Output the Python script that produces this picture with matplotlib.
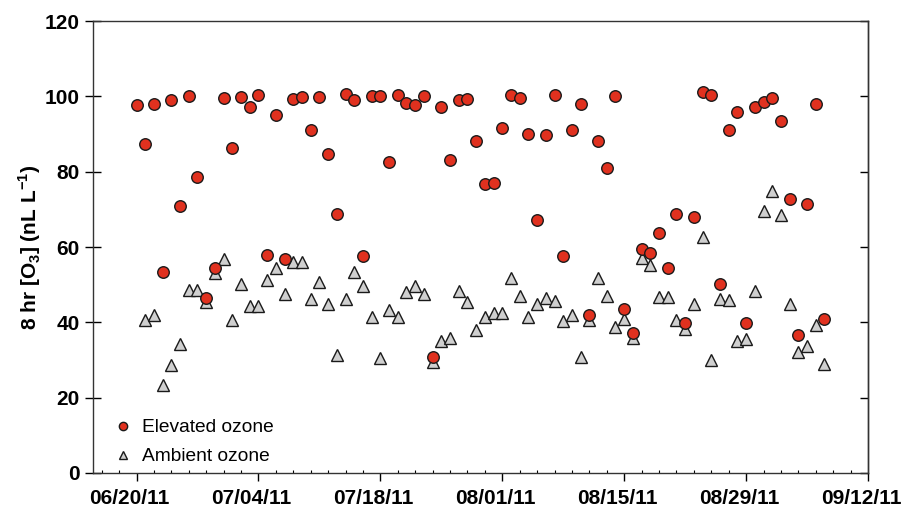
import matplotlib
matplotlib.use("Agg")
import matplotlib.pyplot as plt
import matplotlib.dates as mdates
import matplotlib.transforms as mtransforms
import pandas as pd

plt.rcParams['font.family'] = ['Liberation Sans', 'DejaVu Sans']
plt.rcParams['mathtext.fontset'] = 'custom'
plt.rcParams['mathtext.rm'] = 'Liberation Sans:bold'
plt.rcParams['mathtext.bf'] = 'Liberation Sans:bold'

# Daily 8 hr ozone, elevated from 06/20/11, ambient from 06/21/11
elevated_start = '2011-06-20'
elevated = [97.6, 87.3, 97.9, 53.4, 99.1, 70.9, 100.1, 78.6, 46.4, 54.3,
            99.6, 86.4, 99.7, 97.3, 100.3, 57.9, 95.0, 56.7, 99.4, 99.7,
            91.2, 99.8, 84.7, 68.8, 100.5, 99.0, 57.5, 100.0, 100.1, 82.7,
            100.3, 98.3, 97.7, 100.2, 30.8, 97.1, 83.0, 99.1, 99.2, 88.1,
            76.7, 76.9, 91.7, 100.4, 99.5, 90.1, 67.3, 89.7, 100.3, 57.7,
            91.2, 98.0, 42.0, 88.2, 81.1, 100.2, 43.5, 37.1, 59.4, 58.5,
            63.7, 54.5, 68.8, 39.7, 68.1, 101.1, 100.4, 50.2, 91.0, 95.8,
            39.7, 97.2, 98.5, 99.6, 93.5, 72.7, 36.6, 71.4, 98.0, 41.0]

ambient_start = '2011-06-21'
ambient = [40.5, 41.9, 23.3, 28.8, 34.2, 48.5, 48.5, 45.4, 53.1, 56.9,
           40.5, 50.3, 44.3, 44.3, 51.2, 54.5, 47.6, 56.1, 56.1, 46.1,
           50.6, 45.0, 31.4, 46.2, 53.4, 49.6, 41.4, 30.5, 43.2, 41.4,
           48.1, 49.6, 47.4, 29.5, 35.0, 35.9, 48.2, 45.3, 38.0, 41.3,
           42.4, 42.4, 51.8, 47.0, 41.3, 45.0, 46.4, 45.6, 40.3, 41.9,
           30.8, 40.5, 51.7, 47.1, 38.7, 40.8, 35.8, 57.1, 55.3, 46.6,
           46.7, 40.5, 38.1, 45.0, 62.7, 30.1, 46.2, 45.9, 35.1, 35.7,
           48.3, 69.5, 74.8, 68.6, 45.0, 32.0, 33.6, 39.2, 28.9]

elev_dates = pd.date_range(elevated_start, periods=len(elevated), freq='D')
amb_dates = pd.date_range(ambient_start, periods=len(ambient), freq='D')

fig = plt.figure(figsize=(9.02, 5.13), dpi=100)
ax = fig.add_axes([0.1031, 0.078, 0.8592, 0.881])

ax.plot(amb_dates, ambient, linestyle='none', marker='^', markersize=8.8,
        markerfacecolor='#cfcfcf', markeredgecolor='#1a1a1a', markeredgewidth=1.0,
        label='Ambient ozone', zorder=3)
ax.plot(elev_dates, elevated, linestyle='none', marker='o', markersize=8.3,
        markerfacecolor='#e0311f', markeredgecolor='#1a1a1a', markeredgewidth=1.0,
        label='Elevated ozone', zorder=4)

ax.set_xlim(pd.Timestamp('2011-06-15'), pd.Timestamp('2011-09-12'))
ax.set_ylim(0, 120)

ax.xaxis.set_major_locator(matplotlib.ticker.FixedLocator(
    mdates.date2num(pd.date_range('2011-06-20', '2011-09-12', freq='14D'))))
ax.xaxis.set_minor_locator(matplotlib.ticker.FixedLocator(
    mdates.date2num(pd.date_range('2011-06-16', '2011-09-12', freq='2D'))))
ax.xaxis.set_major_formatter(mdates.DateFormatter('%m/%d/%y'))
ax.set_yticks(range(0, 121, 20))

ax.tick_params(axis='x', which='major', direction='out', length=5.5, width=1, pad=6,
               labelsize=15)
ax.tick_params(axis='x', which='minor', direction='in', length=2.5, width=0.8)
ax.tick_params(axis='y', which='major', direction='inout', length=11, width=1, pad=4,
               labelsize=15)
# date labels sit a little left of their ticks in the original
shift = mtransforms.ScaledTranslation(-7 / 100, 0, fig.dpi_scale_trans)
for lbl in ax.get_xticklabels():
    lbl.set_fontweight('bold')
    lbl.set_transform(lbl.get_transform() + shift)
for lbl in ax.get_yticklabels():
    lbl.set_fontweight('bold')

# right-hand ticks point inward only
right = ax.secondary_yaxis('right')
right.set_yticks(range(0, 121, 20))
right.tick_params(direction='in', length=6, width=1, labelright=False)

for s in list(ax.spines.values()) + list(right.spines.values()):
    s.set_linewidth(1.0)
    s.set_color('#333333')

ax.set_ylabel(r'8 hr [O$_3$] (nL L$^{-1}$)', fontsize=15,
              fontweight='bold', labelpad=1)

handles, labels = ax.get_legend_handles_labels()
ax.legend(handles[::-1], labels[::-1], loc='lower left', frameon=False,
          fontsize=13.8, markerscale=0.72, handlelength=1.0, handletextpad=0.5,
          labelspacing=0.6, borderaxespad=0.0, bbox_to_anchor=(0.016, 0.0))

fig.savefig('out.png', dpi=100)
